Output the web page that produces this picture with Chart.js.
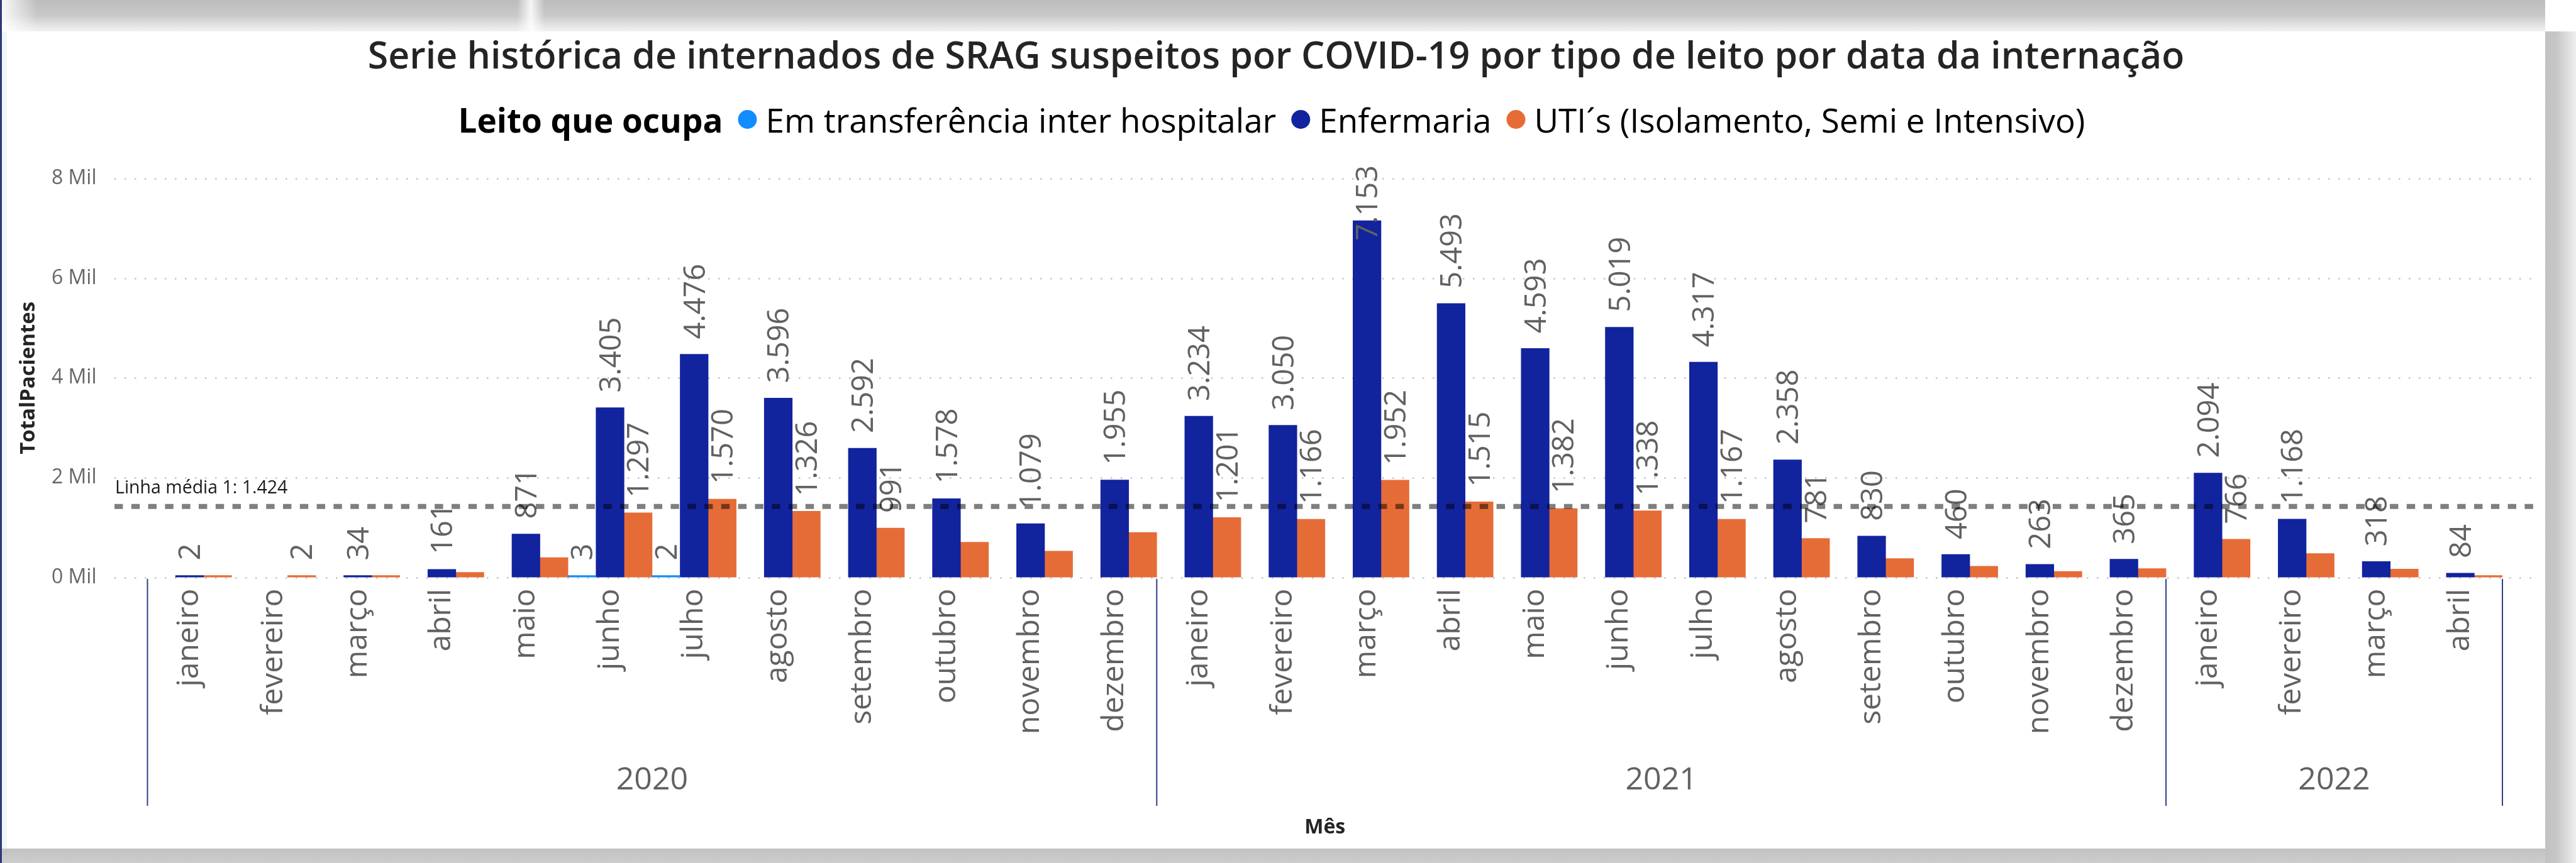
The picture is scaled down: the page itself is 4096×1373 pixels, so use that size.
<!DOCTYPE html>
<html>
<head>
<meta charset="utf-8">
<script src="https://cdn.jsdelivr.net/npm/chart.js@4.4.0/dist/chart.umd.min.js"></script>
<style>
    html, body { margin: 0; padding: 0; background: #ffffff; overflow: hidden; }
    #mycanvas { display: block; }
</style>
</head>
<body>
<canvas id="mycanvas" width="4096" height="1373"></canvas>
<script>
// dados
var meses = ['janeiro', 'fevereiro', 'março', 'abril', 'maio', 'junho', 'julho', 'agosto', 'setembro', 'outubro', 'novembro', 'dezembro',
             'janeiro', 'fevereiro', 'março', 'abril', 'maio', 'junho', 'julho', 'agosto', 'setembro', 'outubro', 'novembro', 'dezembro',
             'janeiro', 'fevereiro', 'março', 'abril'];
var anos = ['2020', '2021', '2022'];
var mesesPorAno = [12, 12, 4];

var emTransferencia = [null, null, null, null, null, 3, 2, null, null, null, null, null,
                       null, null, null, null, null, null, null, null, null, null, null, null,
                       null, null, null, null];
var enfermaria = [2, null, 34, 161, 871, 3405, 4476, 3596, 2592, 1578, 1079, 1955,
                  3234, 3050, 7153, 5493, 4593, 5019, 4317, 2358, 830, 460, 263, 365,
                  2094, 1168, 318, 84];
var uti = [4, 2, 20, 100, 397, 1297, 1570, 1326, 991, 705, 527, 901,
           1201, 1166, 1952, 1515, 1382, 1338, 1167, 781, 379, 225, 119, 178,
           766, 480, 166, 30];
// rotulos de UTI que aparecem no grafico original (1 = visivel)
var rotuloUti = [0, 1, 0, 0, 0, 1, 1, 1, 1, 0, 0, 0,
                 1, 1, 1, 1, 1, 1, 1, 1, 0, 0, 0, 0,
                 1, 0, 0, 0];

var serieNomes = ['Em transferência inter hospitalar', 'Enfermaria', 'UTI´s (Isolamento, Semi e Intensivo)'];
var serieCores = ['#118DFF', '#12239E', '#E66C37'];
var yTicks = [0, 2000, 4000, 6000, 8000];
var linhaMedia = 1424;

var titulo = 'Serie histórica de internados de SRAG suspeitos por COVID-19 por tipo de leito por data da internação';
var tituloLegenda = 'Leito que ocupa';

var fonte = '"Open Sans"';
var corRotulo = '#616161';

function formata(v) {
    return String(v).replace(/\B(?=(\d{3})+(?!\d))/g, '.');
}

// fundo, sombras, titulo e legenda
var fundoPlugin = {
    id: 'fundo',
    beforeDraw: function(chart) {
        var ctx = chart.ctx;
        var W = chart.width, H = chart.height;
        ctx.save();
        ctx.fillStyle = '#ffffff';
        ctx.fillRect(0, 0, W, H);

        // faixa cinza no topo
        var g = ctx.createLinearGradient(0, 0, 0, 50);
        g.addColorStop(0, '#bcbcbc');
        g.addColorStop(0.5, '#c9c9c9');
        g.addColorStop(0.85, '#e7e7e7');
        g.addColorStop(1, '#f2f2f2');
        ctx.fillStyle = g;
        ctx.fillRect(3, 0, 4044, 50);
        var gs = ctx.createLinearGradient(822, 0, 866, 0);
        gs.addColorStop(0, 'rgba(255,255,255,0)');
        gs.addColorStop(0.5, 'rgba(255,255,255,0.85)');
        gs.addColorStop(1, 'rgba(255,255,255,0)');
        ctx.fillStyle = gs;
        ctx.fillRect(822, 0, 44, 50);
        var gl = ctx.createLinearGradient(3, 0, 60, 0);
        gl.addColorStop(0, 'rgba(255,255,255,0.9)');
        gl.addColorStop(1, 'rgba(255,255,255,0)');
        ctx.fillStyle = gl;
        ctx.fillRect(3, 0, 57, 50);

        // sombra direita e inferior
        var gr = ctx.createLinearGradient(4047, 0, 4096, 0);
        gr.addColorStop(0, '#c2c2c2');
        gr.addColorStop(0.35, '#c6c6c6');
        gr.addColorStop(1, '#efefef');
        ctx.fillStyle = gr;
        ctx.fillRect(4047, 50, 49, H - 50);
        var gb = ctx.createLinearGradient(0, 1350, 0, H);
        gb.addColorStop(0, '#c1c1c1');
        gb.addColorStop(1, '#cdcdcd');
        ctx.fillStyle = gb;
        ctx.fillRect(3, 1350, 4044, H - 1350);

        ctx.fillStyle = '#f3f6f9';
        ctx.fillRect(3, 50, 8, 1300);
        ctx.fillStyle = '#2c3a78';
        ctx.fillRect(0, 0, 3, H);

        // titulo
        ctx.fillStyle = '#252423';
        ctx.font = '600 59px ' + fonte;
        ctx.textAlign = 'center';
        ctx.textBaseline = 'alphabetic';
        ctx.fillText(titulo, 2029, 109);

        // legenda
        var fs = 53, raio = 15;
        ctx.font = 'bold ' + fs + 'px ' + fonte;
        var total = ctx.measureText(tituloLegenda).width;
        ctx.font = fs + 'px ' + fonte;
        var larguras = [];
        chart.data.datasets.forEach(function(ds) {
            var w = ctx.measureText(ds.label).width;
            larguras.push(w);
            total += 24 + raio * 2 + 14 + w;
        });
        var x = 2022 - total / 2;
        var yBase = 211, yCirc = 190;
        ctx.textAlign = 'left';
        ctx.fillStyle = '#000000';
        ctx.font = 'bold ' + fs + 'px ' + fonte;
        ctx.fillText(tituloLegenda, x, yBase);
        x += ctx.measureText(tituloLegenda).width;
        ctx.font = fs + 'px ' + fonte;
        chart.data.datasets.forEach(function(ds, i) {
            x += 24;
            ctx.fillStyle = ds.backgroundColor;
            ctx.beginPath();
            ctx.arc(x + raio, yCirc, raio, 0, Math.PI * 2);
            ctx.fill();
            x += raio * 2 + 14;
            ctx.fillStyle = '#000000';
            ctx.fillText(ds.label, x, yBase);
            x += larguras[i];
        });
        ctx.restore();
    },
    beforeDatasetsDraw: function(chart) {
        // grade pontilhada
        var ctx = chart.ctx;
        var y = chart.scales.y;
        ctx.save();
        ctx.strokeStyle = '#c4c4c4';
        ctx.lineWidth = 2.5;
        ctx.setLineDash([2.5, 13.5]);
        yTicks.forEach(function(v) {
            var py = Math.round(y.getPixelForValue(v)) + 0.5;
            ctx.beginPath();
            ctx.moveTo(182, py);
            ctx.lineTo(4033, py);
            ctx.stroke();
        });
        ctx.restore();
    },
    afterDatasetsDraw: function(chart) {
        var ctx = chart.ctx;
        var fs = 47;
        ctx.save();
        ctx.font = fs + 'px ' + fonte;
        ctx.fillStyle = corRotulo;
        ctx.textAlign = 'left';
        ctx.textBaseline = 'alphabetic';
        chart.data.datasets.forEach(function(ds, di) {
            var meta = chart.getDatasetMeta(di);
            meta.data.forEach(function(bar, i) {
                var v = ds.data[i];
                if (v === null || v === undefined) return;
                if (di === 2 && !rotuloUti[i]) return;
                var txt = formata(v);
                var w = ctx.measureText(txt).width;
                var inicio = bar.y - 24;
                if (inicio - w < 263) inicio = 263 + w;
                ctx.save();
                ctx.translate(bar.x + 0.357 * fs, inicio);
                ctx.rotate(-Math.PI / 2);
                ctx.fillText(txt, 0, 0);
                ctx.restore();
            });
        });

        // linha media
        var py = chart.scales.y.getPixelForValue(linhaMedia);
        ctx.strokeStyle = 'rgba(0,0,0,0.5)';
        ctx.lineWidth = 8;
        ctx.setLineDash([13.4, 13.4]);
        ctx.beginPath();
        ctx.moveTo(182, py);
        ctx.lineTo(4033, py);
        ctx.stroke();
        ctx.setLineDash([]);
        ctx.fillStyle = '#1a1a1a';
        ctx.font = '28.5px ' + fonte;
        ctx.fillText('Linha média 1: ' + formata(linhaMedia), 183, py - 21);
        ctx.restore();
    },
    afterDraw: function(chart) {
        // separadores e rotulos de ano
        var ctx = chart.ctx;
        var xs = chart.scales.x;
        var passo = xs.getPixelForValue(1) - xs.getPixelForValue(0);
        ctx.save();
        ctx.strokeStyle = '#2b3d8f';
        ctx.lineWidth = 2;
        var inicio = 0;
        var bordas = [xs.getPixelForValue(0) - passo / 2];
        anos.forEach(function(ano, k) {
            var fim = inicio + mesesPorAno[k];
            var x0 = xs.getPixelForValue(inicio) - passo / 2;
            var x1 = xs.getPixelForValue(fim - 1) + passo / 2;
            bordas.push(x1);
            ctx.fillStyle = corRotulo;
            ctx.font = '50px ' + fonte;
            ctx.textAlign = 'center';
            ctx.textBaseline = 'middle';
            ctx.fillText(ano, (x0 + x1) / 2, 1242);
            inicio = fim;
        });
        bordas.forEach(function(bx) {
            ctx.beginPath();
            ctx.moveTo(bx, 921);
            ctx.lineTo(bx, 1282);
            ctx.stroke();
        });
        ctx.restore();
    }
};

function getChart() {
    var chartdata = {
        labels: meses,
        datasets: [
            { label: serieNomes[0], backgroundColor: serieCores[0], data: emTransferencia },
            { label: serieNomes[1], backgroundColor: serieCores[1], data: enfermaria },
            { label: serieNomes[2], backgroundColor: serieCores[2], data: uti }
        ]
    };
    chartdata.datasets.forEach(function(ds) {
        ds.categoryPercentage = 1;
        ds.barPercentage = 1;
        ds.minBarLength = 3;
        ds.borderWidth = 0;
    });

    Chart.defaults.font.family = fonte;

    var ctx = document.getElementById('mycanvas');
    var BarGraph = new Chart(ctx, {
        type: 'bar',
        data: chartdata,
        plugins: [fundoPlugin],
        options: {
            responsive: false,
            animation: false,
            devicePixelRatio: 1,
            layout: { padding: { left: 11, right: 117, top: 284, bottom: 23 } },
            plugins: {
                legend: { display: false },
                title: { display: false },
                tooltip: { enabled: false }
            },
            scales: {
                x: {
                    grid: { display: false, drawTicks: false },
                    border: { display: false },
                    ticks: {
                        autoSkip: false,
                        minRotation: 90,
                        maxRotation: 90,
                        padding: 18,
                        color: corRotulo,
                        font: { size: 48 }
                    },
                    title: {
                        display: true,
                        text: 'Mês',
                        color: '#252423',
                        font: { size: 32, weight: 'bold' },
                        padding: { top: 0, bottom: 14 }
                    },
                    afterFit: function(scale) { scale.height = 431.4; }
                },
                y: {
                    min: 0,
                    max: 8000,
                    grid: { display: false, drawTicks: false },
                    border: { display: false },
                    afterBuildTicks: function(scale) {
                        scale.ticks = yTicks.map(function(v) { return { value: v }; });
                    },
                    ticks: {
                        padding: 81,
                        color: '#666666',
                        font: { size: 32 },
                        callback: function(v) { return (v / 1000) + ' Mil'; }
                    },
                    title: {
                        display: true,
                        text: 'TotalPacientes',
                        color: '#252423',
                        font: { size: 33, weight: 'bold' },
                        padding: { top: 15, bottom: 0 }
                    },
                    afterFit: function(scale) { scale.width = 223.5; }
                }
            }
        }
    });
}
getChart();
</script>
</body>
</html>
